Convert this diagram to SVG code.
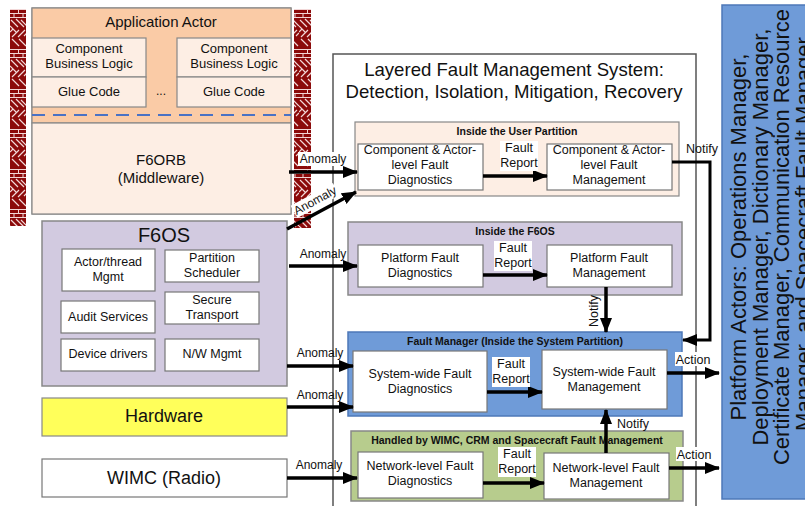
<svg xmlns="http://www.w3.org/2000/svg" width="805" height="506" viewBox="0 0 805 506">
<defs>
<style>
text{font-family:"Liberation Sans",Arial,sans-serif;fill:#111;}
.m{text-anchor:middle;}
.b{font-weight:bold;font-size:10.5px;}
.t13{font-size:13px;}
.t12{font-size:12.5px;}
.an{font-size:12px;}
.box{fill:#fff;stroke:#777;stroke-width:1.2;}
.pe{fill:#fdeee4;stroke:#888;stroke-width:1.2;}
.ph{fill:#facba6;stroke:#888;stroke-width:1.2;}
.lav{fill:#d2cae0;stroke:#888;stroke-width:1.5;}
.blu{fill:#6f9bd8;stroke:#4d78b8;stroke-width:1.5;}
.grn{fill:#b7cc8d;stroke:#888;stroke-width:1.5;}
.arr{stroke:#000;stroke-width:3.5;fill:none;marker-end:url(#ah);}
.ln{stroke:#000;stroke-width:3;fill:none;}
.lbl{fill:#fff;}
</style>
<marker id="ah" markerUnits="userSpaceOnUse" markerWidth="16" markerHeight="14" refX="14" refY="7" orient="auto">
<path d="M0,1 L15,7 L0,13 Z" fill="#000"/>
</marker>
<pattern id="brick" patternUnits="userSpaceOnUse" x="10" y="9" width="17" height="40">
<rect width="17" height="40" fill="#8b0a0a"/>
<path d="M0 0.5H17M0 4.5H17M8.5 0.5V4.5M0 8.5H17M4 4.5V8.5M13 4.5V8.5" stroke="#f2d8d8" stroke-width="1"/>
<path d="M1 11L8 18M6 10L14 18M11 11L17 17M0 17L6 23M2 28L9 21M8 28L15 21M0 23L3 20M14 27L17 24M2 30L9 37M9 30L16 37" stroke="#f2d8d8" stroke-width="1.2"/>
</pattern>
</defs>

<rect x="0" y="0" width="805" height="506" fill="#fff"/>

<!-- Brick walls -->
<g id="wall-left"><rect x="10" y="9" width="16" height="217" fill="url(#brick)"/></g>
<g id="wall-right"><rect x="294" y="9" width="17" height="219" fill="url(#brick)"/></g>

<!-- Application actor -->
<g id="app-actor">
<rect x="32" y="8" width="259" height="206" class="pe"/>
<rect x="32" y="8" width="259" height="115" class="ph"/>
<rect x="32" y="123" width="259" height="91" class="pe"/>
<text x="161" y="27" class="m" font-size="15">Application Actor</text>
<rect x="32" y="38" width="114" height="39" class="pe"/>
<rect x="32" y="77" width="114" height="30" class="pe"/>
<rect x="177" y="38" width="114" height="39" class="pe"/>
<rect x="177" y="77" width="114" height="30" class="pe"/>
<text x="89" y="53" class="m t13">Component</text>
<text x="89" y="68" class="m t13">Business Logic</text>
<text x="89" y="96" class="m t13">Glue Code</text>
<text x="234" y="53" class="m t13">Component</text>
<text x="234" y="68" class="m t13">Business Logic</text>
<text x="234" y="96" class="m t13">Glue Code</text>
<text x="161" y="95" class="m" font-size="12">...</text>
<line x1="32" y1="115" x2="291" y2="115" stroke="#4a72c4" stroke-width="2.2" stroke-dasharray="13,8"/>
<text x="161" y="165" class="m" font-size="15">F6ORB</text>
<text x="161" y="183" class="m" font-size="15">(Middleware)</text>
</g>

<!-- F6OS -->
<g id="f6os">
<rect x="42" y="221" width="245" height="165" class="lav"/>
<text x="164" y="242" class="m" font-size="20">F6OS</text>
<rect x="62" y="249" width="93" height="42" class="box"/>
<text x="108" y="266" class="m t12">Actor/thread</text>
<text x="108" y="281" class="m t12">Mgmt</text>
<rect x="165" y="250" width="94" height="32" class="box"/>
<text x="212" y="262" class="m t12">Partition</text>
<text x="212" y="277" class="m t12">Scheduler</text>
<rect x="61" y="301" width="94" height="32" class="box"/>
<text x="108" y="321" class="m t12">Audit Services</text>
<rect x="165" y="292" width="94" height="32" class="box"/>
<text x="212" y="304" class="m t12">Secure</text>
<text x="212" y="319" class="m t12">Transport</text>
<rect x="61" y="339" width="94" height="32" class="box"/>
<text x="108" y="358" class="m t12">Device drivers</text>
<rect x="165" y="339" width="94" height="32" class="box"/>
<text x="212" y="358" class="m t12">N/W Mgmt</text>
</g>

<g id="hardware">
<rect x="42" y="398" width="245" height="38" fill="#ffff5a" stroke="#888" stroke-width="1.2"/>
<text x="164" y="422" class="m" font-size="18">Hardware</text>
</g>
<g id="wimc">
<rect x="42" y="459" width="245" height="38" class="box"/>
<text x="164" y="484" class="m" font-size="18">WIMC (Radio)</text>
</g>

<!-- Layered FMS -->
<g id="lfms">
<rect x="333" y="54" width="363" height="460" fill="#fff" stroke="#555" stroke-width="1.5"/>
<text x="514" y="76" class="m" font-size="18.6">Layered Fault Management System:</text>
<text x="514" y="98" class="m" font-size="18.6">Detection, Isolation, Mitigation, Recovery</text>
</g>

<g id="user-partition">
<rect x="355" y="122" width="324" height="74" class="pe"/>
<text x="517" y="135" class="m b">Inside the User Partition</text>
</g>
<g id="ca-diag">
<rect x="358" y="144" width="125" height="46" class="box"/>
<text x="420" y="154" class="m t12">Component &amp; Actor-</text>
<text x="420" y="169" class="m t12">level Fault</text>
<text x="420" y="184" class="m t12">Diagnostics</text>
</g>
<g id="ca-mgmt">
<rect x="547" y="144" width="125" height="46" class="box"/>
<text x="609" y="154" class="m t12">Component &amp; Actor-</text>
<text x="609" y="169" class="m t12">level Fault</text>
<text x="609" y="184" class="m t12">Management</text>
</g>

<g id="f6os-partition">
<rect x="348" y="222" width="334" height="73" class="lav"/>
<text x="515" y="235" class="m b">Inside the F6OS</text>
</g>
<g id="pf-diag">
<rect x="358" y="245" width="125" height="42" class="box"/>
<text x="420" y="262" class="m t12">Platform Fault</text>
<text x="420" y="277" class="m t12">Diagnostics</text>
</g>
<g id="pf-mgmt">
<rect x="547" y="245" width="125" height="42" class="box"/>
<text x="609" y="262" class="m t12">Platform Fault</text>
<text x="609" y="277" class="m t12">Management</text>
</g>

<g id="fault-manager">
<rect x="348" y="332" width="334" height="84" class="blu"/>
<text x="515" y="345" class="m b">Fault Manager (Inside the System Partition)</text>
</g>
<g id="sw-diag">
<rect x="353" y="351" width="134" height="61" class="box"/>
<text x="420" y="378" class="m t12">System-wide Fault</text>
<text x="420" y="393" class="m t12">Diagnostics</text>
</g>
<g id="sw-mgmt">
<rect x="542" y="350" width="125" height="59" class="box"/>
<text x="604" y="376" class="m t12">System-wide Fault</text>
<text x="604" y="391" class="m t12">Management</text>
</g>

<g id="network-partition">
<rect x="351" y="431" width="332" height="70" class="grn"/>
<text x="517" y="444" class="m b">Handled by WIMC, CRM and Spacecraft Fault Management</text>
</g>
<g id="nl-diag">
<rect x="358" y="452" width="125" height="46" class="box"/>
<text x="420" y="470" class="m t12">Network-level Fault</text>
<text x="420" y="485" class="m t12">Diagnostics</text>
</g>
<g id="nl-mgmt">
<rect x="544" y="453" width="125" height="46" class="box"/>
<text x="606" y="472" class="m t12">Network-level Fault</text>
<text x="606" y="487" class="m t12">Management</text>
</g>

<g id="platform-actors">
<rect x="722" y="5" width="100" height="494" class="blu"/>
<text transform="translate(746,234) rotate(-90)" class="m" font-size="22">
<tspan x="0" y="0">Platform Actors: Operations Manager,</tspan>
<tspan x="0" y="21.5">Deployment Manager, Dictionary Manager,</tspan>
<tspan x="0" y="43">Certificate Manager, Communication Resource</tspan>
<tspan x="0" y="64.5">Manager, and Spacecraft Fault Manager</tspan>
</text>
</g>

<!-- Connectors -->
<g id="connectors">
<line x1="289" y1="172" x2="357" y2="172" class="arr"/>
<line x1="287" y1="229" x2="356" y2="192" class="arr"/>
<line x1="289" y1="266" x2="357" y2="266" class="arr"/>
<line x1="287" y1="366" x2="353" y2="366" class="arr"/>
<line x1="287" y1="407" x2="353" y2="407" class="arr"/>
<line x1="287" y1="478" x2="357" y2="478" class="arr"/>

<line x1="483" y1="176" x2="547" y2="176" class="arr"/>
<line x1="483" y1="275" x2="547" y2="275" class="arr"/>
<line x1="487" y1="392" x2="542" y2="392" class="arr"/>
<line x1="483" y1="483" x2="544" y2="483" class="arr"/>

<path d="M672,162 H710 V340 H683" class="ln" stroke-width="3" marker-end="url(#ah)"/>
<line x1="606" y1="287" x2="606" y2="332" class="arr"/>
<line x1="606" y1="453" x2="606" y2="410" class="arr"/>
<line x1="667" y1="373" x2="719" y2="373" class="arr"/>
<line x1="669" y1="468" x2="719" y2="468" class="arr"/>

<rect x="298" y="152" width="50" height="14" class="lbl"/>
<text x="323" y="163" class="m an">Anomaly</text>
<g transform="translate(317,204) rotate(-28.5)">
<rect x="-24" y="-11" width="48" height="14" class="lbl"/>
<text x="0" y="0" class="m an">Anomaly</text>
</g>
<text x="323" y="258" class="m an">Anomaly</text>
<text x="320" y="357" class="m an">Anomaly</text>
<text x="320" y="399" class="m an">Anomaly</text>
<text x="319" y="469" class="m an">Anomaly</text>

<rect x="500" y="141" width="38" height="30" class="lbl"/>
<text x="519" y="152" class="m t12">Fault</text>
<text x="519" y="167" class="m t12">Report</text>
<rect x="494" y="241" width="38" height="30" class="lbl"/>
<text x="513" y="252" class="m t12">Fault</text>
<text x="513" y="267" class="m t12">Report</text>
<rect x="492" y="357" width="38" height="30" class="lbl"/>
<text x="511" y="368" class="m t12">Fault</text>
<text x="511" y="383" class="m t12">Report</text>
<rect x="498" y="447" width="38" height="30" class="lbl"/>
<text x="517" y="458" class="m t12">Fault</text>
<text x="517" y="473" class="m t12">Report</text>

<text x="702" y="153" class="m t12">Notify</text>
<text transform="translate(598,311) rotate(-90)" class="m t12">Notify</text>
<text x="633" y="428" class="m t12">Notify</text>
<rect x="675" y="352" width="37" height="14" class="lbl"/>
<text x="693" y="364" class="m t12">Action</text>
<rect x="676" y="447" width="37" height="14" class="lbl"/>
<text x="694" y="459" class="m t12">Action</text>
</g>
</svg>
